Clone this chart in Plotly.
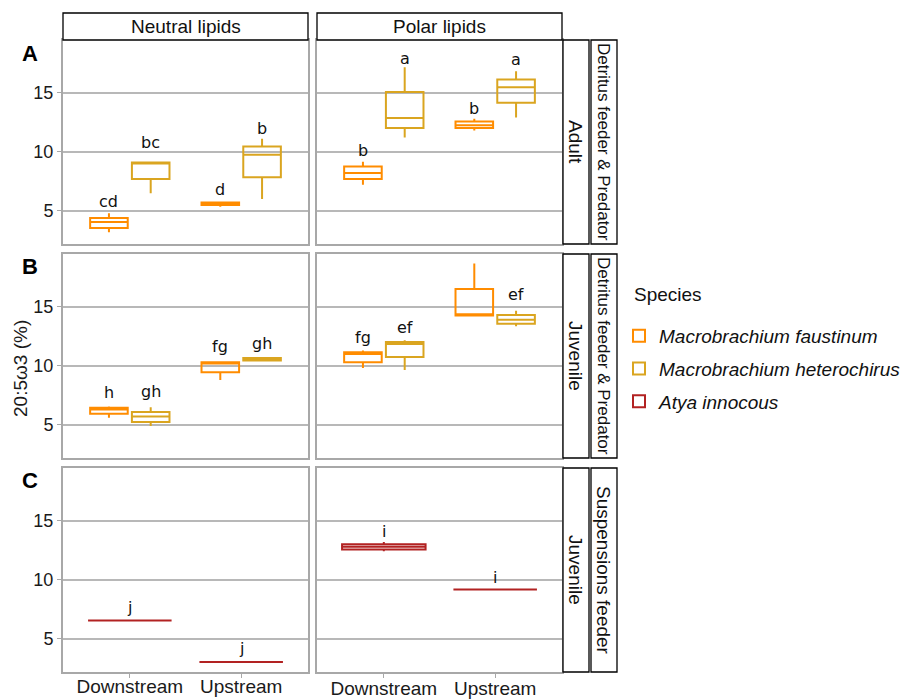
import plotly.graph_objects as go

# ---------------- data ----------------
sites = ["Downstream", "Upstream"]
lipid_classes = ["Neutral lipids", "Polar lipids"]
stage_labels = ["Adult", "Juvenile", "Juvenile"]
guild_labels = ["Detritus feeder & Predator", "Detritus feeder & Predator", "Suspensions feeder"]
panel_tags = ["A", "B", "C"]
species = ["Macrobrachium faustinum", "Macrobrachium heterochirus", "Atya innocous"]
species_colors = ["#FF8C00", "#DAA520", "#B22222"]
y_ticks = [5, 10, 15]
y_title = "20:5ω3 (%)"
legend_title = "Species"

# five-number summaries per site: [lower whisker, Q1, median, Q3, upper whisker]
adult_neutral_mf = [[3.2, 3.55, 4.05, 4.4, 4.8], [5.35, 5.5, 5.6, 5.7, 5.8]]
adult_neutral_mh = [[6.5, 7.7, 9.0, 9.1, 9.1], [6.0, 7.85, 9.75, 10.45, 11.1]]
adult_polar_mf = [[7.2, 7.7, 8.2, 8.75, 9.15], [11.8, 12.0, 12.25, 12.55, 12.8]]
adult_polar_mh = [[11.2, 12.0, 12.85, 15.05, 17.15], [12.9, 14.15, 15.45, 16.1, 16.8]]
juv_neutral_mf = [[5.6, 5.95, 6.3, 6.45, 6.55], [8.8, 9.45, 10.2, 10.3, 10.3]]
juv_neutral_mh = [[4.9, 5.25, 5.7, 6.1, 6.5], [10.35, 10.45, 10.55, 10.65, 10.7]]
juv_polar_mf = [[9.8, 10.3, 11.0, 11.15, 11.3], [14.25, 14.25, 14.35, 16.5, 18.65]]
juv_polar_mh = [[9.65, 10.75, 11.85, 12.0, 12.15], [13.35, 13.55, 13.9, 14.3, 14.65]]
susp_neutral_ai = [[6.55, 6.55, 6.55, 6.55, 6.55], [3.05, 3.05, 3.05, 3.05, 3.05]]
susp_polar_ai = [[12.4, 12.55, 12.8, 13.0, 13.2], [9.18, 9.18, 9.18, 9.18, 9.18]]

# significance letters and the value at which each is written
adult_neutral_mf_letters, adult_neutral_mf_ly = ["cd", "d"], [5.8, 6.85]
adult_neutral_mh_letters, adult_neutral_mh_ly = ["bc", "b"], [10.8, 12.0]
adult_polar_mf_letters, adult_polar_mf_ly = ["b", "b"], [10.1, 13.65]
adult_polar_mh_letters, adult_polar_mh_ly = ["a", "a"], [17.85, 17.8]
juv_neutral_mf_letters, juv_neutral_mf_ly = ["h", "fg"], [7.7, 11.6]
juv_neutral_mh_letters, juv_neutral_mh_ly = ["gh", "gh"], [7.8, 11.9]
juv_polar_mf_letters, juv_polar_mf_ly = ["fg", "e"], [12.4, 19.8]
juv_polar_mh_letters, juv_polar_mh_ly = ["ef", "ef"], [13.2, 16.05]
susp_neutral_ai_letters, susp_neutral_ai_ly = ["j", "j"], [7.65, 4.2]
susp_polar_ai_letters, susp_polar_ai_ly = ["i", "i"], [14.1, 10.15]

# panels: (row, col, [(species index, stats, letters, letter y), ...])
panels = [
    (0, 0, [(0, adult_neutral_mf, adult_neutral_mf_letters, adult_neutral_mf_ly),
            (1, adult_neutral_mh, adult_neutral_mh_letters, adult_neutral_mh_ly)]),
    (0, 1, [(0, adult_polar_mf, adult_polar_mf_letters, adult_polar_mf_ly),
            (1, adult_polar_mh, adult_polar_mh_letters, adult_polar_mh_ly)]),
    (1, 0, [(0, juv_neutral_mf, juv_neutral_mf_letters, juv_neutral_mf_ly),
            (1, juv_neutral_mh, juv_neutral_mh_letters, juv_neutral_mh_ly)]),
    (1, 1, [(0, juv_polar_mf, juv_polar_mf_letters, juv_polar_mf_ly),
            (1, juv_polar_mh, juv_polar_mh_letters, juv_polar_mh_ly)]),
    (2, 0, [(2, susp_neutral_ai, susp_neutral_ai_letters, susp_neutral_ai_ly)]),
    (2, 1, [(2, susp_polar_ai, susp_polar_ai_letters, susp_polar_ai_ly)]),
]

# ---------------- layout geometry (window pixels) ----------------
W, H = 916, 699
col_x = [(63, 308), (317, 562)]
row_y = [(40, 244), (254, 458), (468, 672)]
strip_top = (13, 40)
strip_in = (563, 589)
strip_out = (591, 617)
y_range = [2.2, 19.45]
x_range = [-0.6, 1.6]
dodge = 0.75
GRID = "#B8B8B8"
BORDER = "#A8A8A8"
SANS = "Liberation Sans, Arial, sans-serif"
LETTER_FONT = "DejaVu Sans, sans-serif"
guild_font_sizes = [17, 17, 19]
xtick_standoff = [-8, -6]


def px(x):
    return x / W


def py(y):
    return 1 - y / H


fig = go.Figure()
annotations = []
shapes = []
shown = set()
layout_axes = {}

for row, col, traces in panels:
    idx = row * 2 + col + 1
    xa = "x" if idx == 1 else f"x{idx}"
    ya = "y" if idx == 1 else f"y{idx}"
    n = len(traces)
    unit_px = (col_x[col][1] - col_x[col][0]) / (x_range[1] - x_range[0])
    for k, (si, stats, letters, ly) in enumerate(traces):
        color = species_colors[si]
        kw = {}
        if n == 1:
            kw["width"] = dodge
        fig.add_trace(go.Box(
            x=sites,
            lowerfence=[s[0] for s in stats],
            q1=[s[1] for s in stats],
            median=[s[2] for s in stats],
            q3=[s[3] for s in stats],
            upperfence=[s[4] for s in stats],
            name=f"<i>{species[si]}</i>",
            legendgroup=species[si],
            alignmentgroup=f"panel{idx}",
            offsetgroup=f"sp{si}",
            showlegend=si not in shown,
            line=dict(color=color, width=2),
            fillcolor="rgba(255,255,255,0)",
            whiskerwidth=0,
            boxpoints=False,
            hoverinfo="skip",
            xaxis=xa, yaxis=ya,
            **kw,
        ))
        shown.add(si)
        shift = 0 if n == 1 else (-0.5 + (k + 0.5) / n) * dodge * unit_px
        for s_i, site in enumerate(sites):
            annotations.append(dict(
                x=site, y=ly[s_i], xref=xa, yref=ya, text=letters[s_i],
                showarrow=False, xshift=shift, xanchor="center", yanchor="middle",
                font=dict(family=LETTER_FONT, size=16, color="#111111"),
            ))
    bottom = row == 2
    left = col == 0
    layout_axes["xaxis" if idx == 1 else f"xaxis{idx}"] = dict(
        domain=[px(col_x[col][0]), px(col_x[col][1])], anchor=ya,
        type="category", categoryorder="array", categoryarray=sites,
        range=x_range, showgrid=False, zeroline=False,
        showline=True, mirror=True, linecolor=BORDER, linewidth=2,
        ticks="outside" if bottom else "", ticklen=4, tickcolor=BORDER,
        showticklabels=bottom, ticklabelstandoff=xtick_standoff[col],
        tickfont=dict(family=SANS, size=19, color="#1A1A1A"),
    )
    layout_axes["yaxis" if idx == 1 else f"yaxis{idx}"] = dict(
        domain=[py(row_y[row][1]), py(row_y[row][0])], anchor=xa,
        range=y_range, tickvals=y_ticks, showgrid=True, gridcolor=GRID,
        gridwidth=1.5, zeroline=False,
        showline=True, mirror=True, linecolor=BORDER, linewidth=2,
        ticks="outside" if left else "", ticklen=4, tickcolor=BORDER,
        showticklabels=left,
        tickfont=dict(family=SANS, size=18, color="#1A1A1A"),
    )

# top strips
for c, label in enumerate(lipid_classes):
    shapes.append(dict(type="rect", xref="paper", yref="paper",
                       x0=px(col_x[c][0]), x1=px(col_x[c][1]),
                       y0=py(strip_top[1]), y1=py(strip_top[0]),
                       fillcolor="white", line=dict(color="black", width=1.3)))
    annotations.append(dict(xref="paper", yref="paper",
                            x=px((col_x[c][0] + col_x[c][1]) / 2),
                            y=py((strip_top[0] + strip_top[1]) / 2),
                            xanchor="center", yanchor="middle",
                            text=label, showarrow=False,
                            font=dict(family=SANS, size=19, color="#111111")))

# right strips and panel tags
for r in range(3):
    for (x0, x1), label, fs in ((strip_in, stage_labels[r], 19),
                                (strip_out, guild_labels[r], guild_font_sizes[r])):
        shapes.append(dict(type="rect", xref="paper", yref="paper",
                           x0=px(x0), x1=px(x1),
                           y0=py(row_y[r][1]), y1=py(row_y[r][0]),
                           fillcolor="white", line=dict(color="black", width=1.3)))
        annotations.append(dict(xref="paper", yref="paper",
                                x=px((x0 + x1) / 2), y=py((row_y[r][0] + row_y[r][1]) / 2),
                                xanchor="center", yanchor="middle",
                                text=label, textangle=90, showarrow=False,
                                font=dict(family=SANS, size=fs, color="#111111")))
    annotations.append(dict(xref="paper", yref="paper", x=px(30), y=py(row_y[r][0] + 13),
                            xanchor="center", yanchor="middle",
                            text=f"<b>{panel_tags[r]}</b>", showarrow=False,
                            font=dict(family=SANS, size=22, color="black")))

annotations.append(dict(xref="paper", yref="paper", x=px(20), y=py(369),
                        xanchor="center", yanchor="middle",
                        text=y_title, textangle=-90, showarrow=False,
                        font=dict(family=SANS, size=19, color="#1A1A1A")))
annotations.append(dict(xref="paper", yref="paper", x=px(632), y=py(294),
                        xanchor="left", yanchor="middle",
                        text=legend_title, showarrow=False,
                        font=dict(family=SANS, size=19, color="#111111")))

fig.update_layout(
    width=W, height=H,
    margin=dict(l=0, r=0, t=0, b=0, autoexpand=False),
    paper_bgcolor="white", plot_bgcolor="white",
    boxmode="group", boxgap=0.25, boxgroupgap=0.1,
    shapes=shapes, annotations=annotations,
    legend=dict(
        x=px(619), y=py(317), xanchor="left", yanchor="top",
        font=dict(family=SANS, size=19, color="#111111"),
        tracegroupgap=5, bgcolor="rgba(0,0,0,0)",
    ),
    **layout_axes,
)

# remove the browser's default 8px page margin so the figure fills the window
fig.write_html("out.html", config={"displayModeBar": False},
               post_script="document.body.style.margin='0px';")
